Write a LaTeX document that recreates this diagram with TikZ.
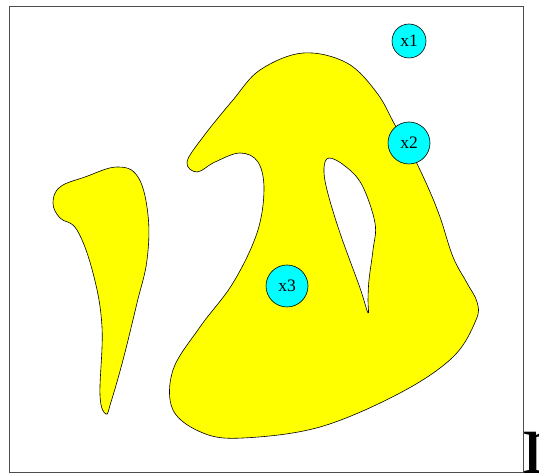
\documentclass[tikz,border=0pt]{standalone}
\usepackage{fontspec}
\setmainfont{Liberation Serif}
\usepackage{tikz}
\definecolor{Lemon}{RGB}{255,255,0}
\definecolor{Aqua}{RGB}{0,255,255}

\begin{document}
\begin{tikzpicture}[x=1pt, y=-1pt,
  blob/.style={fill=Lemon, draw=black, line width=0.6pt},
  hole/.style={fill=white, draw=black, line width=0.6pt},
  point/.style={circle, draw=black, fill=Aqua, line width=0.6pt,
     inner sep=0pt, font=\fontsize{17.5}{20}\selectfont}]
  \useasboundingbox (0,0) rectangle (539,473);
  \draw[gray!60!black, line width=0.8pt] (9.5,6.5) rectangle (523,472);
  % left piece
  \draw[blob] plot[smooth cycle, tension=0.65] coordinates {
    (117,167) (138,177) (148,215) (147,260) (137,303) (123,360) (111,402)
    (106,414) (100,395) (102,327) (93,273) (77,230) (60,218) (53,203)
    (60,187) (85,177)};
  % main piece
  \draw[blob] plot[smooth cycle, tension=0.6] coordinates {
    (303,53) (347,63) (377,93) (395,125) (410,150) (427,185) (440,217)
    (453,257) (467,283) (477,302) (476,320) (453,357) (400,393) (320,427)
    (243,438) (203,433) (173,410) (173,370) (200,327) (233,283) (257,233)
    (264,190) (258,162) (240,153) (215,162) (197,172) (187,162) (203,137)
    (233,100) (260,70)};
  \draw[hole] plot[smooth cycle, tension=0.6] coordinates {
    (329,158) (345,166) (362,185) (375,223) (373,250) (369,280) (368,300)
    (368,313) (360,288) (340,233) (327,190) (324,168)};
  % points
  \node[point, minimum size=34pt] (x1) at (409,41) {x1};
  \node[point, minimum size=42pt] (x2) at (409,143) {x2};
  \node[point, minimum size=42pt] (x3) at (287,286) {x3};
  \node[anchor=base west, inner sep=0pt, font=\fontsize{90}{90}\selectfont]
    (mark) at (522,474) {n};
\end{tikzpicture}
\end{document}
